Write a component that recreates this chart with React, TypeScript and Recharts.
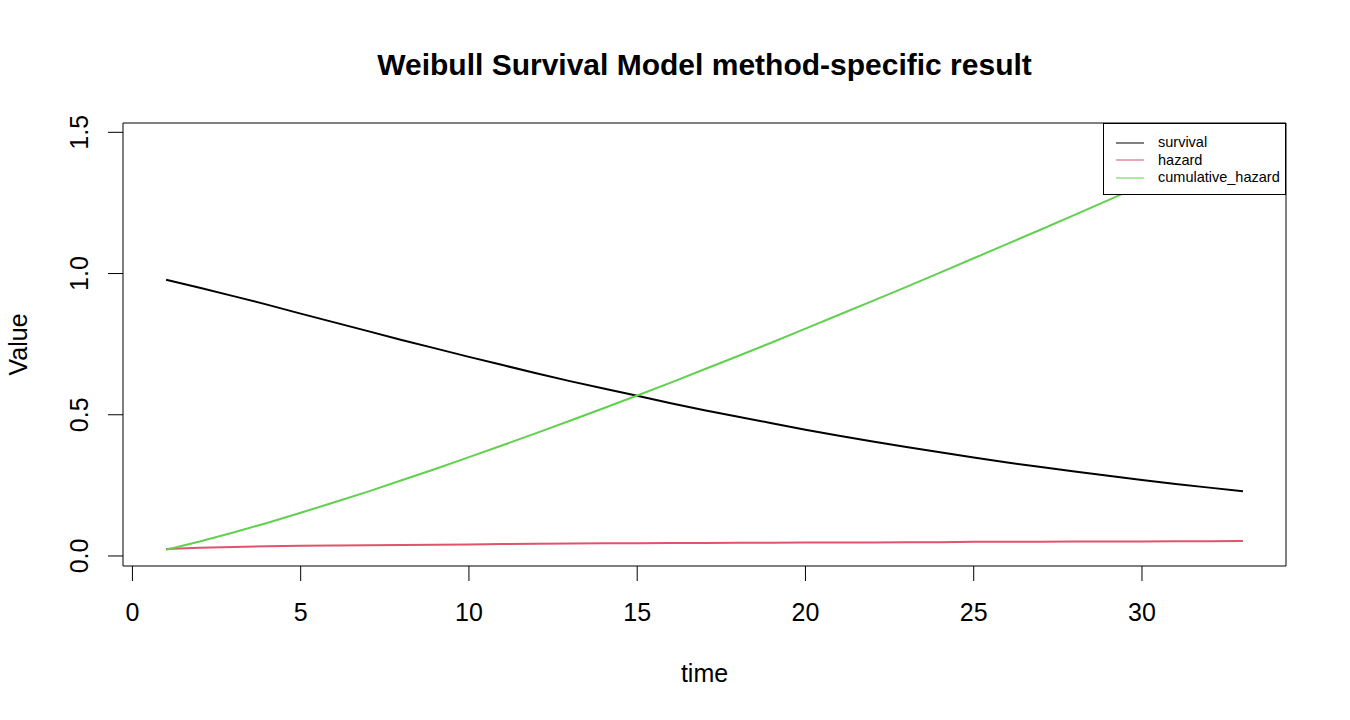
import React from "react";
import { LineChart, Line, XAxis, YAxis, ReferenceArea, Legend } from "recharts";

// time points (1..33) and the three estimated curves
const times = [
  1, 2, 3, 4, 5, 6, 7, 8, 9, 10, 11, 12, 13, 14, 15, 16, 17, 18, 19, 20, 21,
  22, 23, 24, 25, 26, 27, 28, 29, 30, 31, 32, 33,
];
const survival = [
  0.978, 0.95, 0.92, 0.89, 0.858, 0.827, 0.796, 0.765, 0.735, 0.705, 0.676,
  0.647, 0.619, 0.593, 0.567, 0.541, 0.516, 0.493, 0.47, 0.447, 0.426, 0.405,
  0.386, 0.367, 0.349, 0.331, 0.315, 0.299, 0.284, 0.269, 0.255, 0.242, 0.229,
];
const hazard = [
  0.025, 0.029, 0.032, 0.034, 0.036, 0.037, 0.038, 0.039, 0.04, 0.041, 0.042,
  0.043, 0.044, 0.045, 0.045, 0.046, 0.046, 0.047, 0.047, 0.048, 0.048, 0.048,
  0.049, 0.049, 0.05, 0.05, 0.05, 0.051, 0.051, 0.051, 0.052, 0.052, 0.053,
];
const cumulativeHazard = [
  0.022, 0.051, 0.083, 0.117, 0.153, 0.19, 0.228, 0.268, 0.308, 0.35, 0.392,
  0.435, 0.479, 0.523, 0.568, 0.614, 0.661, 0.708, 0.756, 0.805, 0.854, 0.903,
  0.953, 1.003, 1.054, 1.105, 1.156, 1.208, 1.26, 1.313, 1.366, 1.42, 1.474,
];
const xTicks = [0, 5, 10, 15, 20, 25, 30];
const yTicks = [0, 0.5, 1, 1.5];
const seriesKeys = ["survival", "hazard", "cumulative_hazard"];
const seriesColors = ["#000000", "#DF536B", "#61D04F"];

const X_DOMAIN = [-0.28, 34.28];
const Y_DOMAIN = [-0.0355, 1.533];
const FONT = "'Liberation Sans', Arial, sans-serif";

const chartData = times.map((t, i) => ({
  time: t,
  survival: survival[i],
  hazard: hazard[i],
  cumulative_hazard: cumulativeHazard[i],
}));

// R-style y tick labels, rotated to read bottom-to-top
const YTick = ({ y, payload }: any) => (
  <text
    x={88}
    y={y}
    transform={`rotate(-90 88 ${y})`}
    textAnchor="middle"
    fontSize={25}
    fontFamily={FONT}
    fill="#000"
  >
    {Number(payload.value).toFixed(1)}
  </text>
);

const LegendBox = () => (
  <div
    style={{
      boxSizing: "border-box",
      width: 183,
      height: 72,
      border: "1px solid #000",
      background: "#fff",
      paddingTop: 10,
      fontFamily: FONT,
      fontSize: 14.5,
      color: "#000",
    }}
  >
    {seriesKeys.map((key, i) => (
      <div
        key={key}
        style={{ display: "flex", alignItems: "center", height: 17.6 }}
      >
        <svg width={54} height={4} style={{ flex: "none" }}>
          <line x1={12} x2={40} y1={2} y2={2} stroke={seriesColors[i]} strokeWidth={1} />
        </svg>
        <span style={{ lineHeight: "17.6px" }}>{key}</span>
      </div>
    ))}
  </div>
);

export default function App() {
  return (
    <div style={{ position: "absolute", left: 0, top: 0, width: 1350, height: 720, background: "#fff" }}>
      <div
        style={{
          position: "absolute",
          left: 0,
          top: 50,
          width: 1409,
          textAlign: "center",
          fontFamily: FONT,
          fontWeight: "bold",
          fontSize: 30,
          lineHeight: "30px",
        }}
      >
        Weibull Survival Model method-specific result
      </div>
      <LineChart
        width={1350}
        height={720}
        data={chartData}
        margin={{ top: 123, right: 64, bottom: 0, left: 0 }}
      >
        <XAxis
          dataKey="time"
          type="number"
          domain={X_DOMAIN}
          ticks={xTicks}
          allowDataOverflow
          height={154}
          axisLine={false}
          tickLine={{ stroke: "#000" }}
          tickSize={15}
          tickMargin={22}
          tick={{ fontSize: 25, fontFamily: FONT, fill: "#000" }}
          label={{
            value: "time",
            position: "insideBottom",
            offset: 38,
            fontSize: 25,
            fontFamily: FONT,
            fill: "#000",
          }}
        />
        <YAxis
          type="number"
          domain={Y_DOMAIN}
          ticks={yTicks}
          allowDataOverflow
          width={123}
          axisLine={false}
          tickLine={{ stroke: "#000" }}
          tickSize={15}
          tick={YTick}
          label={{
            content: () => (
              <text
                x={27}
                y={344.5}
                transform="rotate(-90 27 344.5)"
                textAnchor="middle"
                fontSize={25}
                fontFamily={FONT}
                fill="#000"
              >
                Value
              </text>
            ),
          }}
        />
        <ReferenceArea
          x1={X_DOMAIN[0]}
          x2={X_DOMAIN[1]}
          y1={Y_DOMAIN[0]}
          y2={Y_DOMAIN[1]}
          fill="none"
          stroke="#000"
          strokeWidth={1}
          ifOverflow="visible"
        />
        {seriesKeys.map((key, i) => (
          <Line
            key={key}
            type="linear"
            dataKey={key}
            stroke={seriesColors[i]}
            strokeWidth={2}
            dot={false}
            isAnimationActive={false}
          />
        ))}
        <Legend
          layout="vertical"
          align="center"
          verticalAlign="middle"
          content={LegendBox}
          wrapperStyle={{ position: "absolute", left: 1103, top: 123, width: 183, height: 72 }}
        />
      </LineChart>
    </div>
  );
}
